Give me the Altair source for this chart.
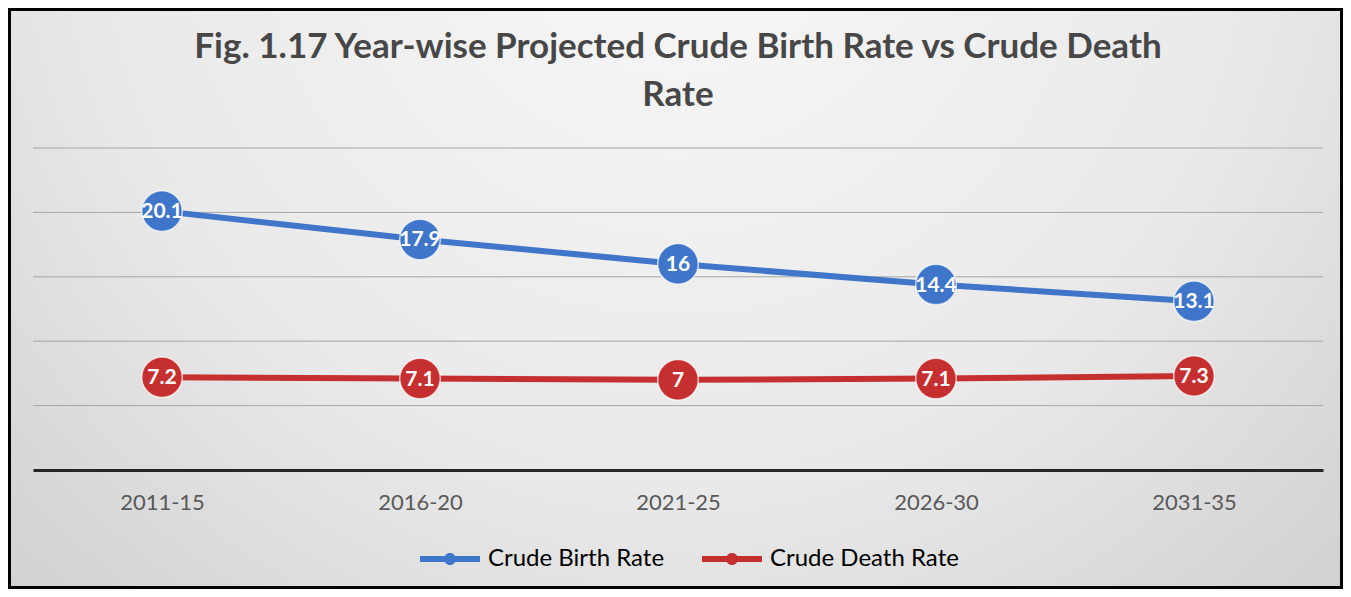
import altair as alt
import pandas as pd

periods = ["2011-15", "2016-20", "2021-25", "2026-30", "2031-35"]
birth_rate = [20.1, 17.9, 16, 14.4, 13.1]
death_rate = [7.2, 7.1, 7, 7.1, 7.3]
series_names = ["Crude Birth Rate", "Crude Death Rate"]
series_colors = ["#3F76C9", "#C62F2F"]
grid_values = [0, 5, 10, 15, 20, 25]

rows = []
for p, v in zip(periods, birth_rate):
    rows.append({"period": p, "value": v, "series": series_names[0], "label": f"{v:g}"})
for p, v in zip(periods, death_rate):
    rows.append({"period": p, "value": v, "series": series_names[1], "label": f"{v:g}"})
df = pd.DataFrame(rows)
grid_df = pd.DataFrame({"g": grid_values})

W, H = 1290, 322
PAD = {"left": 25, "top": 140, "right": 20, "bottom": 119}
FONT = "Lato"

xenc = alt.X("period:N", sort=periods, scale=alt.Scale(type="point", padding=0.5),
             axis=alt.Axis(title=None, labelAngle=0, ticks=False, domainColor="#262626",
                           domainWidth=3, labelFont=FONT, labelFontSize=22,
                           labelColor="#595959", labelPadding=22, zindex=1, grid=False))
yscale = alt.Scale(domain=[0, 25], nice=False, zero=True)
legend = alt.Legend(title=None, orient="none", direction="horizontal",
                    legendX=387, legendY=381, padding=0,
                    symbolType="M-1,-0.1L1,-0.1L1,0.1L-1,0.1Z M-0.2,0A0.2,0.2,0,1,1,0.2,0A0.2,0.2,0,1,1,-0.2,0Z",
                    symbolSize=3600, symbolStrokeWidth=0, symbolOpacity=1,
                    labelFont=FONT, labelFontSize=24, labelColor="#000000", labelLimit=0,
                    labelOffset=8, columnPadding=37, zindex=2)
color = alt.Color("series:N", scale=alt.Scale(domain=series_names, range=series_colors),
                  legend=legend)

bg = alt.Chart(alt.Data(values=[{}])).mark_rect(
    fill={"gradient": "radial", "x1": 0.5, "y1": 0.2, "r1": 0, "x2": 0.5, "y2": 0.2, "r2": 0.8,
          "stops": [{"offset": 0, "color": "#f8f8f8"}, {"offset": 0.55, "color": "#e9e9e9"},
                    {"offset": 1, "color": "#cacaca"}]},
    stroke="#000000", strokeWidth=3
).encode(x=alt.value(-PAD["left"] + 1.5), x2=alt.value(W + PAD["right"] - 1.5),
         y=alt.value(-PAD["top"] + 1.5), y2=alt.value(H + PAD["bottom"] - 1.5))

grid = alt.Chart(grid_df).mark_rule(color="#a6a6a6", strokeWidth=1).encode(
    y=alt.Y("g:Q", scale=yscale, axis=None))

base = alt.Chart(df)
lines = base.mark_line(strokeWidth=6).encode(
    x=xenc, y=alt.Y("value:Q", scale=yscale, axis=None),
    color=color, detail="series:N")
points = base.mark_circle(size=1650, opacity=1, stroke="#ffffff", strokeWidth=1.5, strokeOpacity=0.7).encode(
    x=xenc, y=alt.Y("value:Q", scale=yscale, axis=None), color=color)
labels = base.mark_text(color="#ffffff", fontWeight="bold", font=FONT, fontSize=21, baseline="middle", dy=1).encode(
    x=xenc, y=alt.Y("value:Q", scale=yscale, axis=None), text="label:N")

# background rect bounds reach 140px above the plot; a negative offset brings the title back down
chart = alt.layer(bg, grid, lines, points, labels).properties(
    width=W, height=H,
    padding=PAD,
    autosize=alt.AutoSizeParams(type="none"),
    background="#ffffff",
    title=alt.Title(["Fig. 1.17 Year-wise Projected Crude Birth Rate vs Crude Death", "Rate"],
                    font=FONT, fontSize=35, fontWeight="bold", color="#474747",
                    anchor="middle", frame="group", offset=-105, lineHeight=48, zindex=2)
).configure_view(stroke=None)

chart.save("out.html", embed_options={"renderer": "svg", "actions": False})
